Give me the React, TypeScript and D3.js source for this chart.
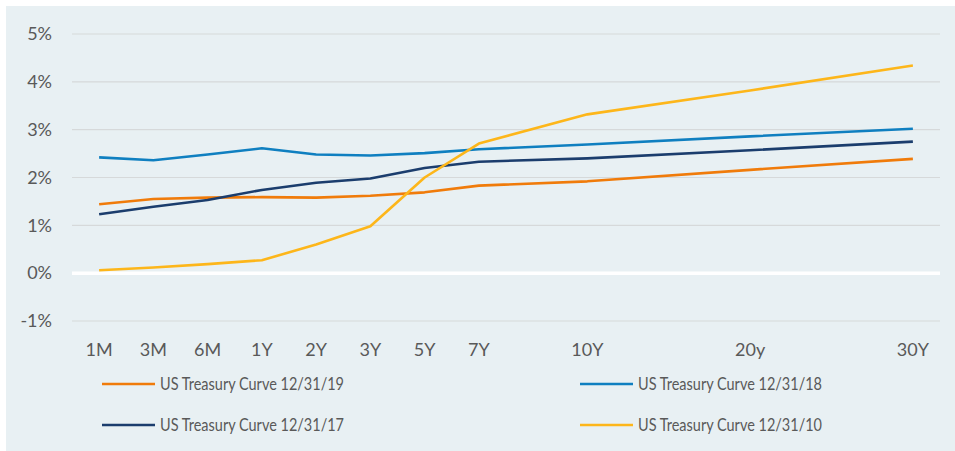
import { useEffect, useRef } from "react";
import { scaleLinear, scalePoint, line, select, axisLeft } from "d3";

// tenor slots; empty strings keep the spacing of the original axis
const slots = ["1M", "3M", "6M", "1Y", "2Y", "3Y", "5Y", "7Y", "", "10Y", "", "", "20y", "", "", "30Y"];
const tenors = ["1M", "3M", "6M", "1Y", "2Y", "3Y", "5Y", "7Y", "10Y", "20y", "30Y"];

const curve19 = [1.44, 1.55, 1.58, 1.59, 1.58, 1.62, 1.69, 1.83, 1.92, 2.16, 2.39];
const curve18 = [2.42, 2.36, 2.48, 2.61, 2.48, 2.46, 2.51, 2.59, 2.69, 2.86, 3.02];
const curve17 = [1.23, 1.39, 1.53, 1.74, 1.89, 1.98, 2.2, 2.33, 2.4, 2.57, 2.75];
const curve10 = [0.06, 0.12, 0.19, 0.27, 0.6, 0.98, 2.0, 2.71, 3.32, 3.82, 4.34];

const yTicks = [-1, 0, 1, 2, 3, 4, 5];

const series = [
  { name: "US Treasury Curve 12/31/19", values: curve19, color: "#f07b0a" },
  { name: "US Treasury Curve 12/31/18", values: curve18, color: "#0f7fc0" },
  { name: "US Treasury Curve 12/31/17", values: curve17, color: "#1b3d6d" },
  { name: "US Treasury Curve 12/31/10", values: curve10, color: "#fdb61a" },
];

const W = 955;
const H = 451;
const plot = { left: 72, right: 940, top: 34, bottom: 321 };
const font = "Lato, 'Open Sans', sans-serif";
const textColor = "#595959";

export default function App() {
  const axisRef = useRef(null);

  const x = scalePoint()
    .domain(slots.map((s, i) => String(i)))
    .range([plot.left, plot.right])
    .padding(0.5);
  const xOf = (t) => x(String(slots.indexOf(t)));

  const y = scaleLinear().domain([-1, 5]).range([plot.bottom, plot.top]);

  useEffect(() => {
    if (!axisRef.current) return;
    const g = select(axisRef.current);
    g.call(
      axisLeft(y)
        .tickValues(yTicks)
        .tickSize(0)
        .tickPadding(20)
        .tickFormat((d) => `${d}%`)
    );
    g.select(".domain").remove();
    g.selectAll("text")
      .attr("font-family", font)
      .attr("font-size", 18)
      .attr("fill", textColor);
  }, []);

  const lineGen = line()
    .x((d) => xOf(d[0]))
    .y((d) => y(d[1]));

  return (
    <svg width={W} height={H} style={{ position: "absolute", left: 0, top: 0 }}>
      <rect x={6} y={6} width={W - 6} height={H - 6} fill="#e8f0f3" />
      {yTicks.map((t) => (
        <line
          key={t}
          x1={plot.left}
          x2={plot.right}
          y1={y(t)}
          y2={y(t)}
          stroke={t === 0 ? "#ffffff" : "#d6d9da"}
          strokeWidth={t === 0 ? 3.5 : 1.2}
        />
      ))}
      <g ref={axisRef} transform={`translate(${plot.left},0)`} />
      {slots.map((s, i) =>
        s ? (
          <text
            key={i}
            x={x(String(i))}
            y={356}
            textAnchor="middle"
            fontFamily={font}
            fontSize={18}
            fill={textColor}
          >
            {s}
          </text>
        ) : null
      )}
      {series.map((s) => (
        <path
          key={s.name}
          d={lineGen(tenors.map((t, i) => [t, s.values[i]]))}
          fill="none"
          stroke={s.color}
          strokeWidth={2.6}
          strokeLinejoin="round"
        />
      ))}
      {series.map((s, i) => {
        const lx = i % 2 === 0 ? 102 : 580;
        const ly = i < 2 ? 384 : 425;
        return (
          <g key={s.name}>
            <line x1={lx} x2={lx + 53} y1={ly} y2={ly} stroke={s.color} strokeWidth={2.6} />
            <text
              x={lx + 58}
              y={ly}
              dy="0.36em"
              fontFamily={font}
              fontSize={18}
              textLength={184}
              lengthAdjust="spacingAndGlyphs"
              fill={textColor}
            >
              {s.name}
            </text>
          </g>
        );
      })}
    </svg>
  );
}
